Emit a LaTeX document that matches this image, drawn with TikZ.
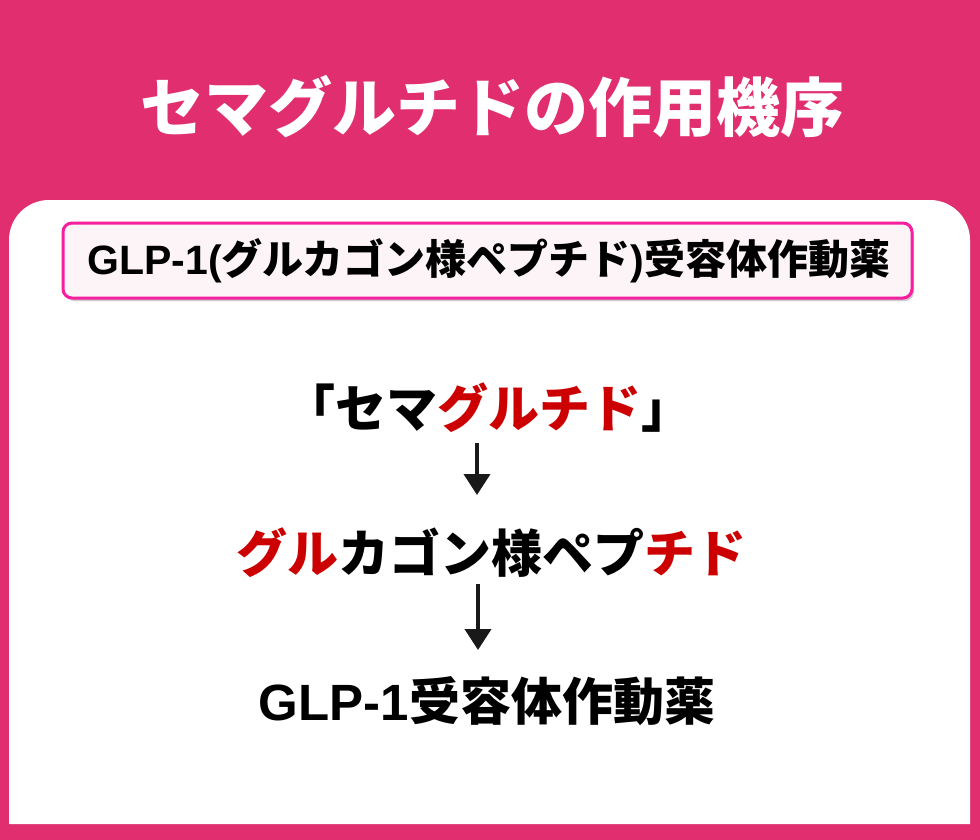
\documentclass[tikz,border=0pt]{standalone}
\usepackage{fontspec}
\setmainfont{Noto Sans CJK JP}
\newfontfamily\lat{Liberation Sans}
\usetikzlibrary{arrows.meta}
\definecolor{bgpink}{HTML}{E12E6F}
\definecolor{boxpink}{HTML}{F51FA0}
\definecolor{boxfill}{HTML}{FDF4F7}
\definecolor{txtred}{HTML}{CC0000}
\tikzset{
  txt/.style={inner sep=0pt, anchor=center, font=\bfseries},
  flowarrow/.style={line width=4pt, draw=black!90, -{Triangle[width=26pt,length=21pt]}}
}
\begin{document}
\begin{tikzpicture}[x=1pt,y=-1pt]
\useasboundingbox (0,0) rectangle (980,840);
\fill[bgpink] (0,0) rectangle (980,840);
% white panel
\fill[white] (9,824) -- (9,240) arc[start angle=180,end angle=270,radius=40] -- (930,200) arc[start angle=270,end angle=360,radius=40] -- (970,824) -- cycle;
% title
\node[txt, text=white, font=\bfseries\fontsize{64}{70}\selectfont] (title) at (492,107) {セマグルチドの作用機序};
% header box with shadow
\fill[black!40, opacity=0.5, rounded corners=9pt] (65,226) rectangle (914,301);
\draw[line width=3pt, draw=boxpink, fill=boxfill, rounded corners=9pt] (63,223) rectangle (912,298);
\node[txt, font=\bfseries\fontsize{41}{48}\selectfont] (hdr) at (489,261) {{\lat\bfseries GLP-1(}グルカゴン様ペプチド{\lat\bfseries )}受容体作動薬};
% flow
\node[txt, font=\bfseries\fontsize{51}{58}\selectfont] (l1) at (488,408) {「セマ\textcolor{txtred}{グルチド}」};
\node[txt, font=\bfseries\fontsize{51}{58}\selectfont] (l2) at (491,553) {\textcolor{txtred}{グル}カゴン様ペプ\textcolor{txtred}{チド}};
\node[txt, font=\bfseries\fontsize{51}{58}\selectfont] (l3) at (487,701) {{\lat\bfseries GLP-1}受容体作動薬};
\coordinate (a1s) at (477,443);
\coordinate (a1e) at (477,495);
\coordinate (a2s) at (478,584);
\coordinate (a2e) at (478,650);
\draw[flowarrow] (a1s) -- (a1e);
\draw[flowarrow] (a2s) -- (a2e);
\end{tikzpicture}
\end{document}
